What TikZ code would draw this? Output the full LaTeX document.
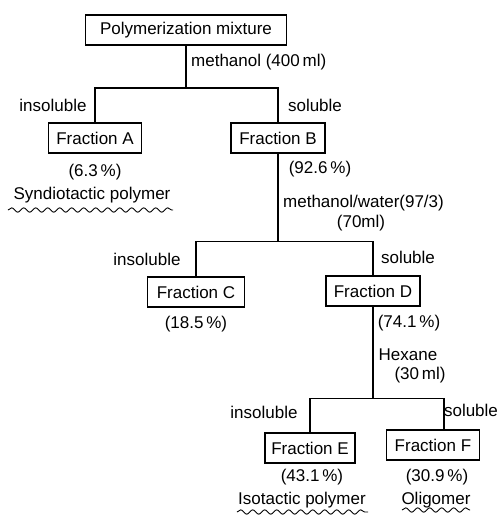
\documentclass[tikz,border=0pt]{standalone}
\usepackage{fontspec}
\setmainfont{Liberation Sans}
\usetikzlibrary{decorations.pathmorphing}

\begin{document}
\begin{tikzpicture}[x=1pt, y=-1pt, font=\fontsize{17}{19}\selectfont,
  box/.style={draw, line width=1.1pt, inner sep=0pt, minimum height=30pt},
  lbl/.style={inner sep=0pt},
  wavy/.style={decorate, line width=0.9pt, decoration={snake, amplitude=2.2pt, segment length=12pt}}]
  \useasboundingbox (0,0) rectangle (503,515);
  % boxes
  \node[box, minimum width=201pt] (mix) at (186,30) {Polymerization mixture};
  \node[box, minimum width=93pt] (fa) at (95,138) {Fraction A};
  \node[box, minimum width=94pt] (fb) at (278,138) {Fraction B};
  \node[box, minimum width=97pt] (fc) at (196,292) {Fraction C};
  \node[box, minimum width=94pt] (fd) at (373,291) {Fraction D};
  \node[box, minimum width=90pt] (fe) at (310,448) {Fraction E};
  \node[box, minimum width=93pt] (ff) at (433,445) {Fraction F};
  % split points
  \coordinate (s1) at (186,88);
  \coordinate (s2) at ([yshift=-88pt]fb.south);
  \coordinate (s3) at ([yshift=-92pt]fd.south);
  % connectors
  \draw[line width=1.1pt] (mix) -- (s1);
  \draw[line width=1.1pt] (fa) |- (s1) -| (fb);
  \draw[line width=1.1pt] (fb) -- (s2);
  \draw[line width=1.1pt] (fc) |- (s2) -| (fd);
  \draw[line width=1.1pt] (fd) -- (s3);
  \draw[line width=1.1pt] (fe) |- (s3) -| ([xshift=11pt]ff.north);
  % labels
  \node[lbl, anchor=west] (sol1) at (191,62) {methanol (400\,ml)};
  \node[lbl] (ins1) at (53,105) {insoluble};
  \node[lbl] (so1) at (315,105) {soluble};
  \node[lbl] (pa) at (95,172) {(6.3\,\%)};
  \node[lbl] (syn) at (92,195) {Syndiotactic polymer};
  \node[lbl] (pb) at (320,169) {(92.6\,\%)};
  \node[lbl, anchor=west] (sol2) at (283,203) {methanol/water(97/3)};
  \node[lbl] (vol2) at (361,223) {(70ml)};
  \node[lbl] (ins2) at (147,259) {insoluble};
  \node[lbl] (so2) at (408,257) {soluble};
  \node[lbl] (pc) at (196,324) {(18.5\,\%)};
  \node[lbl] (pd) at (409,323) {(74.1\,\%)};
  \node[lbl] (sol3) at (408,355) {Hexane};
  \node[lbl] (vol3) at (420,375) {(30\,ml)};
  \node[lbl] (ins3) at (264,412) {insoluble};
  \node[lbl] (so3) at (471,410) {soluble};
  \node[lbl] (pe) at (312,477) {(43.1\,\%)};
  \node[lbl] (pf) at (437,477) {(30.9\,\%)};
  \node[lbl] (iso) at (302,500) {Isotactic polymer};
  \node[lbl] (oli) at (436,500) {Oligomer};
  % wavy underlines
  \draw[wavy] (8,210) -- (173,210);
  \draw[wavy] (237,512) -- (368,512);
  \draw[wavy] (402,510) -- (470,510);
\end{tikzpicture}
\end{document}
